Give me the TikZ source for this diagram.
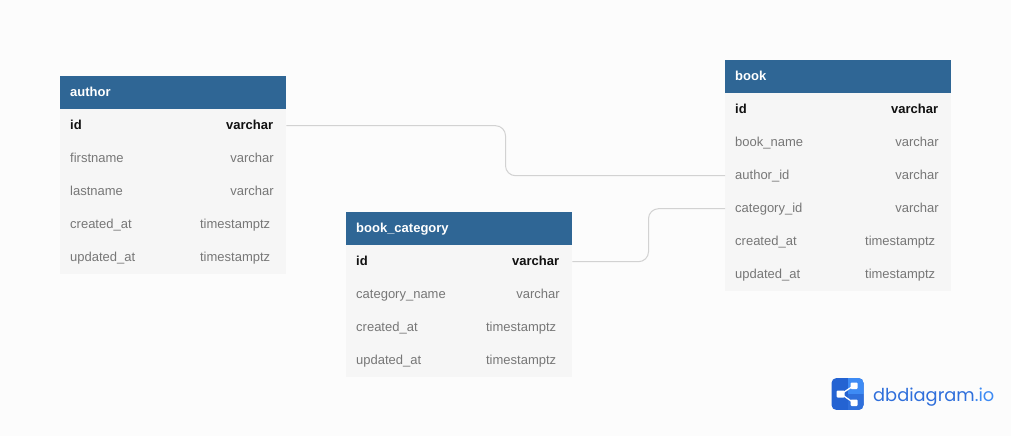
\documentclass[tikz,border=0pt]{standalone}
\usepackage{fontspec}
\setmainfont{Liberation Sans}
\newfontfamily\logofont{Poppins}
\definecolor{bgc}{HTML}{FCFCFC}
\definecolor{headc}{HTML}{2F6695}
\definecolor{rowc}{HTML}{F6F6F6}
\definecolor{grayt}{HTML}{777777}
\definecolor{blackt}{HTML}{111111}
\definecolor{linec}{HTML}{D2D2D2}
\definecolor{logod}{HTML}{2463D2}
\definecolor{logol}{HTML}{3E8BF4}
\definecolor{logot}{HTML}{2F6FDB}
\tikzset{
  headbox/.style={fill=headc,text=white,font=\bfseries\fontsize{13}{15}\selectfont,anchor=north west,minimum width=226pt,minimum height=33pt,inner sep=0pt,inner xsep=10pt,text width=206pt,align=left,text height=11pt,text depth=2.5pt},
  fieldrow/.style={fill=rowc,text=grayt,font=\fontsize{13}{15}\selectfont,anchor=north west,minimum width=226pt,minimum height=33pt,inner sep=0pt,inner xsep=10pt,text width=206pt,align=left,text height=11pt,text depth=2.5pt},
  keyrow/.style={fieldrow,text=blackt,font=\bfseries\fontsize{13}{15}\selectfont},
  typetext/.style={text=grayt,font=\fontsize{13}{15}\selectfont,anchor=east,inner sep=0pt,text height=11pt,text depth=2.5pt},
  keytype/.style={typetext,text=blackt,font=\bfseries\fontsize{13}{15}\selectfont},
  relation/.style={draw=linec,line width=1pt,rounded corners=10pt}
}
\begin{document}
\begin{tikzpicture}[x=1pt,y=-1pt]
\useasboundingbox (0,0) rectangle (1011,436);
\fill[bgc] (0,0) rectangle (1011,436);
% author
\node[headbox] (author) at (60,76) {author};
\node[keyrow] (aid) at (60,109) {id};
\node[fieldrow] (afn) at (60,142) {firstname};
\node[fieldrow] (aln) at (60,175) {lastname};
\node[fieldrow] (acr) at (60,208) {created\_at};
\node[fieldrow] (aup) at (60,241) {updated\_at};
\node[keytype] (aidt) at ([xshift=-13pt]aid.east) {varchar};
\node[typetext] (afnt) at ([xshift=-12.5pt]afn.east) {varchar};
\node[typetext] (alnt) at ([xshift=-12.5pt]aln.east) {varchar};
\node[typetext] (acrt) at ([xshift=-16pt]acr.east) {timestamptz};
\node[typetext] (aupt) at ([xshift=-16pt]aup.east) {timestamptz};
% book_category
\node[headbox] (cat) at (346,212) {book\_category};
\node[keyrow] (cid) at (346,245) {id};
\node[fieldrow] (cnm) at (346,278) {category\_name};
\node[fieldrow] (ccr) at (346,311) {created\_at};
\node[fieldrow] (cup) at (346,344) {updated\_at};
\node[keytype] (cidt) at ([xshift=-13pt]cid.east) {varchar};
\node[typetext] (cnmt) at ([xshift=-12.5pt]cnm.east) {varchar};
\node[typetext] (ccrt) at ([xshift=-16pt]ccr.east) {timestamptz};
\node[typetext] (cupt) at ([xshift=-16pt]cup.east) {timestamptz};
% book
\node[headbox] (book) at (725,60) {book};
\node[keyrow] (bid) at (725,93) {id};
\node[fieldrow] (bnm) at (725,126) {book\_name};
\node[fieldrow] (bau) at (725,159) {author\_id};
\node[fieldrow] (bct) at (725,192) {category\_id};
\node[fieldrow] (bcr) at (725,225) {created\_at};
\node[fieldrow] (bup) at (725,258) {updated\_at};
\node[keytype] (bidt) at ([xshift=-13pt]bid.east) {varchar};
\node[typetext] (bnmt) at ([xshift=-12.5pt]bnm.east) {varchar};
\node[typetext] (baut) at ([xshift=-12.5pt]bau.east) {varchar};
\node[typetext] (bctt) at ([xshift=-12.5pt]bct.east) {varchar};
\node[typetext] (bcrt) at ([xshift=-16pt]bcr.east) {timestamptz};
\node[typetext] (bupt) at ([xshift=-16pt]bup.east) {timestamptz};
% relations
\coordinate (m1) at (505.5,0);
\coordinate (m2) at (648.5,0);
\draw[relation] (aid.east) -- (aid.east -| m1) -- (bau.west -| m1) -- (bau.west);
\draw[relation] (cid.east) -- (cid.east -| m2) -- (bct.west -| m2) -- (bct.west);
% logo
\begin{scope}
\clip[rounded corners=5pt] (831.5,378) rectangle (863.5,410);
\fill[logod] (831,378) rectangle (864,410);
\fill[logol] (847.5,378) rectangle (864,394);
\fill[logot] (847.5,394) rectangle (864,410);
\end{scope}
\draw[white,line width=1.3pt] (841,394) -- (854,385.5) (841,394) -- (854,403);
\fill[white,rounded corners=1pt] (836.5,390.5) rectangle (844.5,397.5);
\fill[white,rounded corners=1pt] (850.5,382.5) rectangle (857.5,389);
\fill[white,rounded corners=1pt] (850.5,399.5) rectangle (857.5,406);
\node[anchor=base west,inner sep=0pt,text=logot,font=\logofont\fontsize{17.8}{24}\selectfont] (logo) at (873,401) {dbdiagram\textcolor{logol}{.io}};
\end{tikzpicture}
\end{document}
